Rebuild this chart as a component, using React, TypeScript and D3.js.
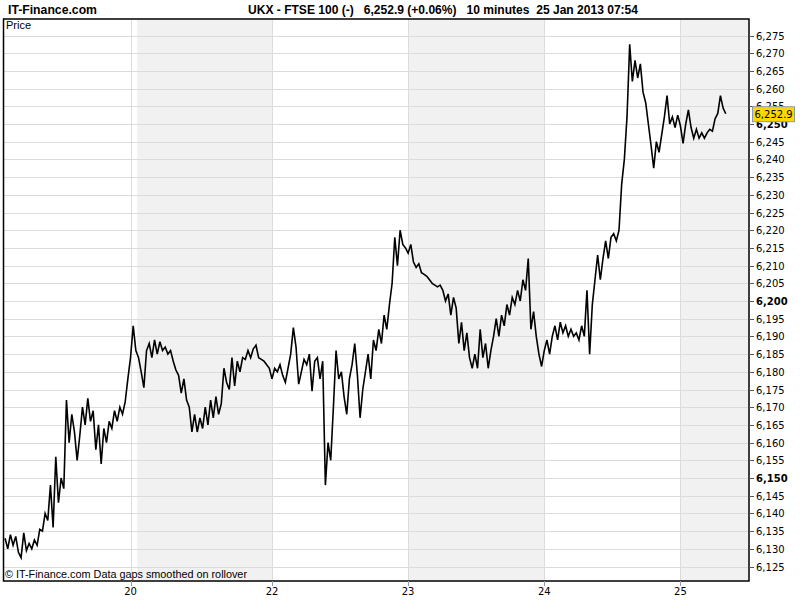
import React from "react";
import * as d3 from "d3";

// 10-minute bars (bar index from start of chart), FTSE 100 price
const prices: number[] = [
  6133, 6130, 6134, 6131, 6133.5, 6129, 6127.5, 6134.5, 6129.5, 6131.5,
  6130, 6132.5, 6131, 6135.5, 6135, 6140, 6138, 6148, 6136, 6156,
  6143, 6150, 6147, 6172, 6160, 6168, 6163, 6155, 6162, 6170,
  6165, 6172.5, 6166, 6169, 6158, 6165, 6154, 6164, 6160, 6166,
  6164, 6169, 6166, 6170, 6168, 6171.5, 6178, 6184, 6193, 6186,
  6184, 6180, 6175.5, 6186, 6188, 6184, 6189, 6185, 6188.5, 6186,
  6187, 6185, 6186, 6183, 6180.5, 6179, 6174, 6178, 6172, 6170,
  6163, 6168, 6163, 6167, 6164, 6170, 6165, 6172, 6167, 6173,
  6168, 6171, 6181, 6177, 6175, 6184, 6176, 6183, 6180, 6184,
  6183.5, 6186, 6184, 6186.5, 6187.5, 6184, 6183.5, 6183, 6182, 6181,
  6178, 6181, 6180, 6182, 6179, 6177, 6181, 6185, 6192.5, 6187,
  6176.5, 6180, 6183.5, 6182, 6185, 6174.5, 6183, 6184, 6178, 6183,
  6148, 6160, 6155, 6170, 6186, 6178, 6180, 6173, 6168, 6178,
  6182, 6188, 6179, 6167, 6175, 6180, 6185, 6178, 6189, 6186,
  6192, 6188, 6196, 6192, 6199, 6205, 6218, 6210, 6220, 6216,
  6215, 6213.5, 6216, 6211, 6209.5, 6210.5, 6208, 6207.5, 6207, 6206,
  6205, 6204.5, 6204, 6204.5, 6203, 6200, 6202, 6196, 6201, 6198,
  6188, 6194, 6186, 6191, 6184, 6181, 6185, 6181, 6192, 6184,
  6188, 6181, 6186, 6190, 6195, 6190, 6196, 6193, 6199, 6196,
  6201, 6199, 6203, 6200, 6206, 6203, 6212, 6192, 6197, 6190,
  6185, 6181.5, 6186, 6189, 6185, 6190, 6193, 6189, 6194, 6191,
  6193, 6190, 6192, 6190, 6191, 6189, 6193, 6190, 6203, 6185,
  6199, 6206, 6213, 6206, 6212, 6217, 6212, 6218, 6219, 6217,
  6220, 6233, 6240, 6252, 6272.5, 6262, 6268, 6263, 6267, 6259,
  6256, 6250, 6244, 6237.5, 6245, 6242, 6247, 6252, 6258, 6250,
  6252, 6249, 6252.5, 6249.5, 6244.5, 6250, 6254, 6249, 6246, 6248.5,
  6246, 6247.5, 6246, 6247.5, 6248.5, 6248, 6251.5, 6253, 6258, 6254.5,
  6252.9,
];

// x-axis day ticks (bar index) and labels
const dayTickBars: number[] = [47, 100, 151, 202, 253];
const dayTickLabels: string[] = ["20", "22", "23", "24", "25"];
// alternate shaded sessions (bar index ranges)
const shadedSessions: [number, number][] = [
  [49.5, 100],
  [151, 202],
  [253, 278.7],
];
const xDomain: [number, number] = [-0.4, 278.7];

// y-axis
const yDomain: [number, number] = [6125, 6275];
const yTicks: number[] = d3.range(6125, 6276, 5);
const lastPrice = 6252.9;
const lastLabel = "6,252.9";

const headerLeft = "IT-Finance.com";
const headerTitle = "UKX - FTSE 100 (-)   6,252.9 (+0.06%)   10 minutes  25 Jan 2013 07:54";
const footerText = "© IT-Finance.com  Data gaps smoothed on rollover";

export default function App() {
  const W = 800;
  const H = 600;
  const left = 3.5;
  const right = 749;
  const top = 19;
  const bottom = 581;

  const x = d3.scaleLinear().domain(xDomain).range([4, 749]);
  const y = d3.scaleLinear().domain(yDomain).range([566.5, 35.5]);
  const fmt = d3.format(",");

  const line = d3
    .line<number>()
    .x((_, i) => x(i))
    .y((d) => y(d));

  const axisFont = "'DejaVu Sans', Verdana, sans-serif";
  const narrowFont = "'Liberation Sans Narrow', 'Arial Narrow', 'Liberation Sans', Arial, sans-serif";

  return (
    <svg
      width={W}
      height={H}
      style={{ position: "absolute", left: 0, top: 0, background: "#fff" }}
    >
      <rect x={0} y={0} width={W} height={H} fill="#fff" />
      {/* shaded sessions */}
      {shadedSessions.map(([a, b], i) => (
        <rect
          key={"s" + i}
          x={x(a)}
          y={top}
          width={Math.min(x(b), right) - x(a)}
          height={bottom - top}
          fill="#f1f1f1"
        />
      ))}
      {/* horizontal grid */}
      {yTicks.map((v) => (
        <line
          key={"g" + v}
          x1={left}
          x2={right}
          y1={Math.round(y(v)) + 0.5}
          y2={Math.round(y(v)) + 0.5}
          stroke="#dcdcdc"
          strokeWidth={1}
        />
      ))}
      {/* vertical grid */}
      {dayTickBars.map((b) => (
        <line
          key={"v" + b}
          x1={Math.round(x(b)) + 0.5}
          x2={Math.round(x(b)) + 0.5}
          y1={top}
          y2={bottom}
          stroke="#dcdcdc"
          strokeWidth={1}
        />
      ))}
      {/* price line */}
      <path
        d={line(prices) || ""}
        fill="none"
        stroke="#000"
        strokeWidth={1.6}
        strokeLinejoin="miter"
      />
      {/* frame */}
      <rect
        x={left}
        y={top}
        width={right - left}
        height={bottom - top}
        fill="none"
        stroke="#000"
        strokeWidth={1.5}
      />
      <text x={6} y={29} fontFamily="'Liberation Sans', Arial, sans-serif" fontSize={11} fill="#000">
        Price
      </text>
      <text
        x={5}
        y={578}
        fontFamily="'Liberation Sans', Arial, sans-serif"
        fontSize={11}
        fill="#000"
        textLength={242}
        lengthAdjust="spacingAndGlyphs"
      >
        {footerText}
      </text>
      {/* y axis */}
      {yTicks.map((v) => (
        <g key={"t" + v}>
          <line
            x1={right}
            x2={right + 5}
            y1={Math.round(y(v)) + 0.5}
            y2={Math.round(y(v)) + 0.5}
            stroke="#555"
          />
          <text
            x={right + 7}
            y={y(v) + 4}
            fontFamily={axisFont}
            fontSize={10}
            fontWeight={v % 50 === 0 ? "bold" : "normal"}
            fill="#000"
          >
            {fmt(v)}
          </text>
        </g>
      ))}
      {/* x axis */}
      {dayTickBars.map((b, i) => (
        <g key={"x" + b}>
          <line
            x1={Math.round(x(b)) + 0.5}
            x2={Math.round(x(b)) + 0.5}
            y1={bottom}
            y2={bottom + 5}
            stroke="#8a9aaa"
          />
          <text
            x={x(b)}
            y={595}
            textAnchor="middle"
            fontFamily={axisFont}
            fontSize={10}
            fill="#000"
          >
            {dayTickLabels[i]}
          </text>
        </g>
      ))}
      {/* last price label */}
      <rect
        x={752.5}
        y={y(lastPrice) - 7}
        width={42}
        height={15}
        fill="#ffd700"
        stroke="#8c9aa8"
        strokeWidth={1}
      />
      <text x={754.5} y={y(lastPrice) + 4.5} fontFamily={axisFont} fontSize={10} fill="#000">
        {lastLabel}
      </text>
      {/* header */}
      <text
        x={8}
        y={14}
        fontFamily={narrowFont}
        fontSize={13}
        fontWeight="bold"
        fill="#000"
        textLength={89}
        lengthAdjust="spacingAndGlyphs"
      >
        {headerLeft}
      </text>
      <text
        x={248}
        y={14}
        fontFamily={narrowFont}
        fontSize={13}
        fontWeight="bold"
        fill="#000"
        textLength={390}
        lengthAdjust="spacingAndGlyphs"
        style={{ whiteSpace: "pre" }}
      >
        {headerTitle}
      </text>
    </svg>
  );
}
